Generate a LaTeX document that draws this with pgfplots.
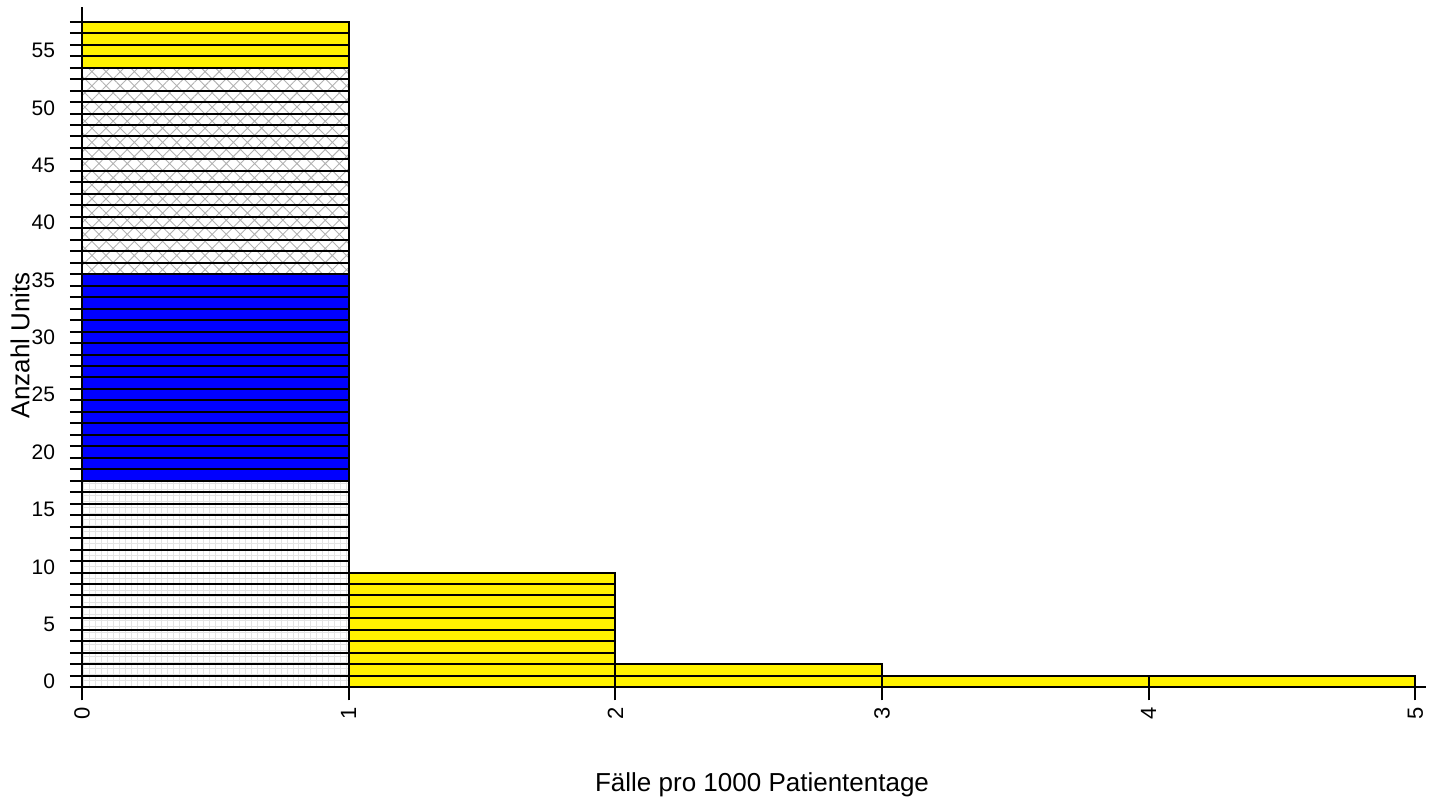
\documentclass[border=0pt]{standalone}
\usepackage{fontspec}
\setmainfont{Liberation Sans}
\usepackage{pgfplots}
\pgfplotsset{compat=1.18}
\usetikzlibrary{patterns,patterns.meta}
\begin{document}
\begin{tikzpicture}
\path[use as bounding box] (0,0) rectangle (718bp,400bp);
\begin{axis}[
  at={(41bp,50bp)}, anchor=south west,
  scale only axis, width=672bp, height=346.6bp,
  xmin=0, xmax=5.04, ymin=-1.107, ymax=59.3,
  axis x line*=middle, axis y line*=left,
  hide obscured x ticks=false,
  axis line style={line width=1bp, black},
  tick align=outside,
  /pgf/number format/assume math mode=true,
  xtick={0,1,2,3,4,5},
  ytick={0.5,5.5,10.5,15.5,20.5,25.5,30.5,35.5,40.5,45.5,50.5,55.5},
  yticklabels={0,5,10,15,20,25,30,35,40,45,50,55},
  minor ytick={0,1,...,58},
  major tick length=6.5bp, minor tick length=6bp,
  tick style={black, line width=1bp},
  major y tick style={draw=none},
  yticklabel style={font=\fontsize{10.5bp}{12bp}\selectfont, anchor=east, xshift=-3.5bp},
  xticklabel style={font=\fontsize{11bp}{12bp}\selectfont, rotate=90, anchor=east},
  xlabel={Fälle pro 1000 Patiententage},
  ylabel={Anzahl Units},
  xlabel style={font=\fontsize{13bp}{15bp}\selectfont, at={(axis description cs:0.506,0)}, anchor=center, yshift=-42.5bp},
  ylabel style={font=\fontsize{13bp}{15bp}\selectfont, at={(axis description cs:-0.0461,0.512)}, anchor=center, rotate=0},
]
% bar 0-1 segments
\addplot[draw=black, line width=1bp, pattern=grid, pattern color=gray!22] coordinates {(0,0)(0,18)(1,18)(1,0)} -- cycle;
\addplot[draw=black, line width=1bp, fill=blue] coordinates {(0,18)(0,36)(1,36)(1,18)} -- cycle;
\addplot[draw=black, line width=1bp, pattern={Hatch[angle=45, distance=5bp, line width=0.45bp]}, pattern color=gray!60] coordinates {(0,36)(0,54)(1,54)(1,36)} -- cycle;
\addplot[draw=black, line width=1bp, fill=yellow] coordinates {(0,54)(0,58)(1,58)(1,54)} -- cycle;
% other bars
\addplot[draw=black, line width=1bp, fill=yellow] coordinates {(1,0)(1,10)(2,10)(2,0)} -- cycle;
\addplot[draw=black, line width=1bp, fill=yellow] coordinates {(2,0)(2,2)(3,2)(3,0)} -- cycle;
\addplot[draw=black, line width=1bp, fill=yellow] coordinates {(3,0)(3,1)(4,1)(4,0)} -- cycle;
\addplot[draw=black, line width=1bp, fill=yellow] coordinates {(4,0)(4,1)(5,1)(5,0)} -- cycle;
% unit row separators
\addplot[xcomb, black, line width=1bp, mark=none] coordinates {
(5,1)(3,2)(2,3)(2,4)(2,5)(2,6)(2,7)(2,8)(2,9)(2,10)
(1,11)(1,12)(1,13)(1,14)(1,15)(1,16)(1,17)(1,18)(1,19)(1,20)
(1,21)(1,22)(1,23)(1,24)(1,25)(1,26)(1,27)(1,28)(1,29)(1,30)
(1,31)(1,32)(1,33)(1,34)(1,35)(1,36)(1,37)(1,38)(1,39)(1,40)
(1,41)(1,42)(1,43)(1,44)(1,45)(1,46)(1,47)(1,48)(1,49)(1,50)
(1,51)(1,52)(1,53)(1,54)(1,55)(1,56)(1,57)(1,58)};
\end{axis}
\end{tikzpicture}
\end{document}
